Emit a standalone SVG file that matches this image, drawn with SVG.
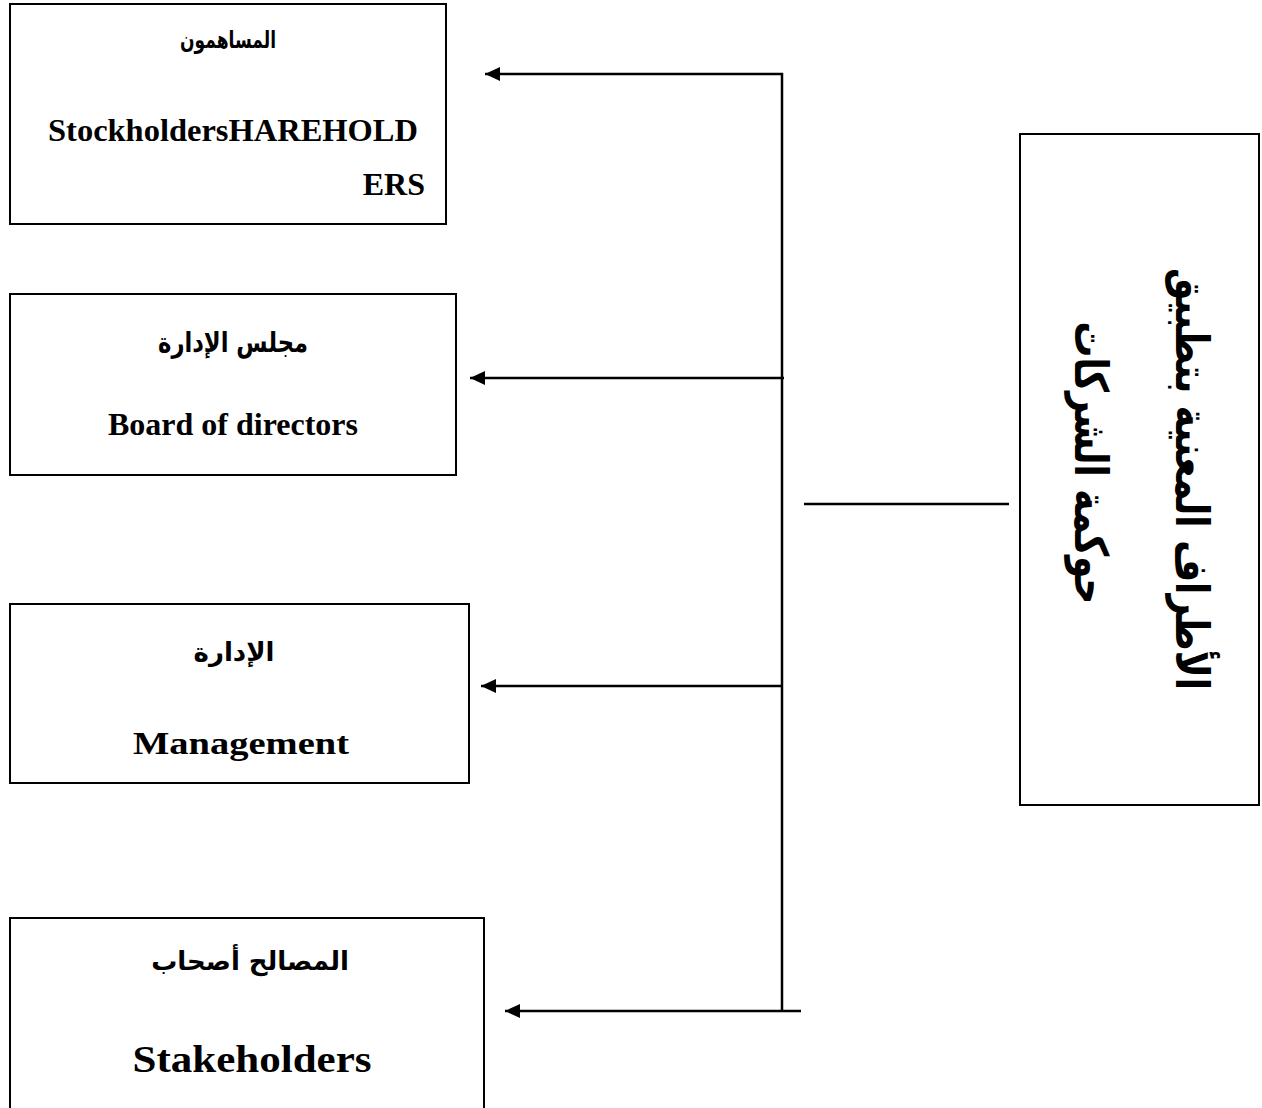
<svg xmlns="http://www.w3.org/2000/svg" width="1262" height="1108" viewBox="0 0 1262 1108">
<defs>
<style>
.box{fill:#fff;stroke:#000;stroke-width:2}
.en{font-family:"Liberation Serif",serif;font-weight:bold;fill:#000}
.ar{font-family:"DejaVu Sans","Noto Sans",sans-serif;font-weight:bold;fill:#000}
.ln{stroke:#000;stroke-width:2.5;fill:none}
</style>
<marker id="ah" markerWidth="16" markerHeight="14" refX="15" refY="7" orient="auto" markerUnits="userSpaceOnUse">
<path d="M0,0 L15,7 L0,14 Z" fill="#000"/>
</marker>
</defs>
<rect width="1262" height="1108" fill="#fff"/>
<g id="node-shareholders">
<rect class="box" x="10" y="4" width="436" height="220"/>
<text class="ar" x="228" y="48" font-size="24" text-anchor="middle" direction="rtl" textLength="96" lengthAdjust="spacingAndGlyphs">المساهمون</text>
<text class="en" x="48" y="141" font-size="32" textLength="370" lengthAdjust="spacingAndGlyphs">StockholdersHAREHOLD</text>
<text class="en" x="425" y="195" font-size="32" text-anchor="end">ERS</text>
</g>
<g id="node-board">
<rect class="box" x="10" y="294" width="446" height="181"/>
<text class="ar" x="233" y="352" font-size="28" text-anchor="middle" direction="rtl" textLength="150" lengthAdjust="spacingAndGlyphs">مجلس الإدارة</text>
<text class="en" x="233" y="435" font-size="32" text-anchor="middle">Board of directors</text>
</g>
<g id="node-management">
<rect class="box" x="10" y="604" width="459" height="179"/>
<text class="ar" x="234" y="661" font-size="26" text-anchor="middle" direction="rtl">الإدارة</text>
<text class="en" x="241" y="754" font-size="32" text-anchor="middle" textLength="216" lengthAdjust="spacingAndGlyphs">Management</text>
</g>
<g id="node-stakeholders">
<rect class="box" x="10" y="918" width="474" height="210"/>
<text class="ar" x="250" y="970" font-size="26" text-anchor="middle" direction="rtl">المصالح أصحاب</text>
<text class="en" x="252" y="1072" font-size="38" text-anchor="middle" textLength="239" lengthAdjust="spacingAndGlyphs">Stakeholders</text>
</g>
<g id="node-parties">
<rect class="box" x="1020" y="134" width="239" height="671"/>
<text class="ar" transform="translate(1176,479) rotate(90)" x="0" y="0" font-size="46" text-anchor="middle" direction="rtl" textLength="422" lengthAdjust="spacingAndGlyphs">الأطراف المعنية بتطبيق</text>
<text class="ar" transform="translate(1075,463) rotate(90)" x="0" y="0" font-size="46" text-anchor="middle" direction="rtl" textLength="283" lengthAdjust="spacingAndGlyphs">حوكمة الشركات</text>
</g>
<g id="connectors">
<line class="ln" x1="782" y1="73" x2="782" y2="1011"/>
<line class="ln" x1="783" y1="74" x2="485" y2="74" marker-end="url(#ah)"/>
<line class="ln" x1="784" y1="378" x2="470" y2="378" marker-end="url(#ah)"/>
<line class="ln" x1="782" y1="686" x2="481" y2="686" marker-end="url(#ah)"/>
<line class="ln" x1="801" y1="1011" x2="505" y2="1011" marker-end="url(#ah)"/>
<line class="ln" x1="804" y1="504" x2="1009" y2="504"/>
</g>
</svg>
